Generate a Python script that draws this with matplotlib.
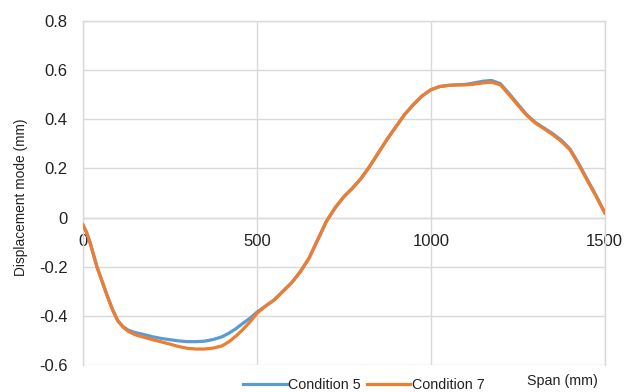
import matplotlib
matplotlib.use("Agg")
import matplotlib.pyplot as plt

plt.rcParams['font.family'] = ['Liberation Sans', 'DejaVu Sans']

span = [0, 10, 20, 30, 40, 55, 70, 85, 100, 116, 130, 150, 175, 200, 225, 250, 275,
        300, 325, 350, 375, 400, 420, 440, 460, 480, 500, 525, 550, 575, 600, 625,
        650, 675, 700, 725, 750, 775, 800, 825, 850, 875, 900, 925, 950, 975, 1000,
        1025, 1050, 1075, 1100, 1125, 1150, 1175, 1200, 1225, 1250, 1275, 1300,
        1325, 1350, 1375, 1400, 1425, 1450, 1475, 1500]
cond5 = [-0.03, -0.06, -0.10, -0.15, -0.20, -0.26, -0.32, -0.375, -0.42, -0.445,
         -0.458, -0.468, -0.476, -0.485, -0.492, -0.497, -0.502, -0.505, -0.505,
         -0.503, -0.496, -0.485, -0.47, -0.452, -0.43, -0.41, -0.385, -0.36, -0.335,
         -0.30, -0.265, -0.22, -0.165, -0.09, -0.015, 0.04, 0.085, 0.12, 0.16, 0.21,
         0.265, 0.32, 0.37, 0.42, 0.46, 0.495, 0.52, 0.533, 0.538, 0.54, 0.542,
         0.548, 0.555, 0.558, 0.545, 0.505, 0.462, 0.42, 0.388, 0.365, 0.342, 0.315,
         0.28, 0.22, 0.155, 0.09, 0.02]
cond7 = [-0.03, -0.06, -0.10, -0.15, -0.20, -0.26, -0.32, -0.375, -0.42, -0.447,
         -0.463, -0.477, -0.487, -0.497, -0.506, -0.515, -0.525, -0.532, -0.535,
         -0.535, -0.531, -0.522, -0.505, -0.482, -0.455, -0.425, -0.39, -0.36, -0.335,
         -0.30, -0.265, -0.22, -0.165, -0.09, -0.015, 0.04, 0.085, 0.12, 0.16, 0.21,
         0.265, 0.32, 0.37, 0.42, 0.46, 0.495, 0.52, 0.533, 0.538, 0.54, 0.54,
         0.543, 0.548, 0.551, 0.54, 0.50, 0.458, 0.417, 0.385, 0.362, 0.338, 0.311,
         0.276, 0.216, 0.151, 0.087, 0.02]
xticks = [0, 500, 1000, 1500]
yticks = [-0.6, -0.4, -0.2, 0, 0.2, 0.4, 0.6, 0.8]
ytick_labels = ["-0.6", "-0.4", "-0.2", "0", "0.2", "0.4", "0.6", "0.8"]

fig = plt.figure(figsize=(6.27, 3.92), dpi=100)
ax = fig.add_axes([83/627, 27/392, (604.7-83)/627, (365-21)/392])

grid_c = "#d9d9d9"
ax.plot(span, cond5, color="#5B9BD5", lw=2.3, label="Condition 5", zorder=3,
        solid_joinstyle="round")
ax.plot(span, cond7, color="#ED7D31", lw=2.3, label="Condition 7", zorder=4,
        solid_joinstyle="round")

ax.set_xlim(0, 1500)
ax.set_ylim(-0.6, 0.8)
ax.set_xticks(xticks)
ax.set_yticks(yticks)
ax.set_yticklabels(ytick_labels)
ax.grid(True, color=grid_c, lw=1.0)
ax.set_axisbelow(True)
for s in ax.spines.values():
    s.set_color(grid_c)
    s.set_linewidth(1.0)
ax.spines['bottom'].set_position(('data', 0))
ax.tick_params(axis='both', length=0, labelsize=12, colors="#222222")
ax.tick_params(axis='x', pad=12)
ax.tick_params(axis='y', pad=11)

fig.text(21/627, 1 - 197/392, "Displacement mode (mm)", rotation=90,
         ha="center", va="center", fontsize=9.9, color="#222222")
fig.text(562/627, 1 - 381/392, "Span (mm)", ha="center", va="center",
         fontsize=10.3, color="#222222")

leg = fig.legend(loc="center", bbox_to_anchor=(364/627, 1 - 385/392), ncol=2,
                 frameon=False, fontsize=10.3, handlelength=3.05, handletextpad=0.1,
                 columnspacing=0.4, borderpad=0, borderaxespad=0)
for t in leg.get_texts():
    t.set_color("#222222")

fig.savefig("out.png", dpi=100)
